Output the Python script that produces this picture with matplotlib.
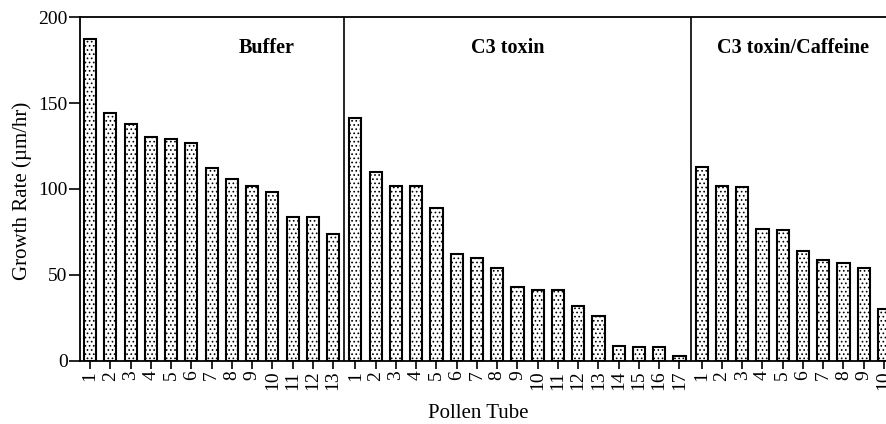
import matplotlib.pyplot as plt
import numpy as np

plt.rcParams['font.family'] = ['Liberation Serif', 'DejaVu Serif']
plt.rcParams['hatch.linewidth'] = 0.7

# Growth rates (um/hr)
buffer_rates = [187, 144, 138, 130, 129, 127, 112, 106, 102, 98, 84, 84, 74]
c3_rates = [141, 110, 102, 102, 89, 62, 60, 54, 43, 41, 41, 32, 26, 9, 8, 8, 3]
caffeine_rates = [113, 102, 101, 77, 76, 64, 59, 57, 54, 30]
groups = ["Buffer", "C3 toxin", "C3 toxin/Caffeine"]

gap = 1.1
pos_buffer = np.arange(len(buffer_rates))
pos_c3 = pos_buffer[-1] + gap + np.arange(len(c3_rates))
pos_caff = pos_c3[-1] + gap + np.arange(len(caffeine_rates))

fig = plt.figure(figsize=(8.86, 4.24), dpi=100)
ax = fig.add_axes([0.0903, 0.1486, 0.9097, 0.8113])

for pos, vals in [(pos_buffer, buffer_rates), (pos_c3, c3_rates), (pos_caff, caffeine_rates)]:
    ax.bar(pos, vals, width=0.6, facecolor="white", edgecolor="black",
           hatch="....", linewidth=1.5)

# separators between the panels
ax.axvline((pos_buffer[-1] + pos_c3[0]) / 2, color="black", lw=1.2)
ax.axvline((pos_c3[-1] + pos_caff[0]) / 2, color="black", lw=1.2)

ticks = np.concatenate([pos_buffer, pos_c3, pos_caff])
labels = [str(i + 1) for i in range(len(buffer_rates))] + \
         [str(i + 1) for i in range(len(c3_rates))] + \
         [str(i + 1) for i in range(len(caffeine_rates))]
ax.set_xticks(ticks)
ax.set_xticklabels(labels, rotation=90, fontsize=14)
ax.set_xlim(-0.5, 39.3)
ax.set_ylim(0, 200)
ax.set_yticks([0, 50, 100, 150, 200])
ax.tick_params(axis="y", direction="out", length=8, width=1.2, labelsize=14, pad=1)
ax.tick_params(axis="x", direction="out", length=6, width=1.2, pad=1)

ax.spines["right"].set_visible(False)
for s in ["left", "top", "bottom"]:
    ax.spines[s].set_linewidth(1.3)

ax.text(8.7, 182, groups[0], fontsize=14.5, fontweight="bold", ha="center", va="center")
ax.text(20.6, 182, groups[1], fontsize=14.5, fontweight="bold", ha="center", va="center")
ax.text(34.7, 182, groups[2], fontsize=14.5, fontweight="bold", ha="center", va="center")

ax.set_ylabel("Growth Rate (\u00b5m/hr)", fontsize=15)
ax.yaxis.set_label_coords(-0.06, 0.495)
ax.set_xlabel("Pollen Tube", fontsize=15)
ax.xaxis.set_label_coords(0.494, -0.125)

fig.savefig("out.png", dpi=100)
